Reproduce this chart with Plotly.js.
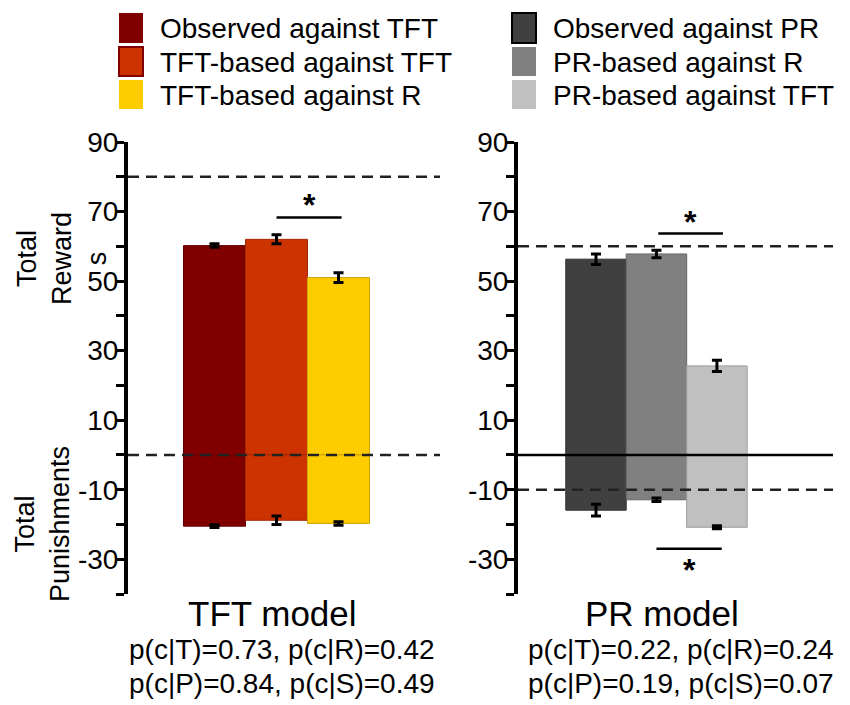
<!DOCTYPE html>
<html>
<head>
<meta charset="utf-8">
<script src="https://cdn.plot.ly/plotly-3.0.1.min.js"></script>
<style>
  html, body { margin: 0; padding: 0; background: #ffffff; }
  #chart { width: 850px; height: 705px; }
</style>
</head>
<body>
<div id="chart"></div>
<script>
// ---------------- DATA ----------------
const tftCategories = ['Observed against TFT', 'TFT-based against TFT', 'TFT-based against R'];
const tftColors = ['#800000', '#cc3300', '#ffcc00'];
const tftRewards = [60.2, 62.0, 51.0];
const tftRewardErr = [0.5, 1.3, 1.4];
const tftPunish = [-20.5, -18.8, -19.7];
const tftPunishErr = [0.4, 1.2, 0.5];

const prCategories = ['Observed against PR', 'PR-based against R', 'PR-based against TFT'];
const prColors = ['#404040', '#808080', '#c0c0c0'];
const prRewards = [56.3, 57.8, 25.6];
const prRewardErr = [1.5, 1.1, 1.6];
const prPunish = [-15.9, -12.9, -20.8];
const prPunishErr = [1.7, 0.5, 0.4];

const tftDashedRefs = [80, 0];
const prDashedRefs = [60, -10];
const prSolidRefs = [0];

// significance: [fromBar, toBar, lineValue, starValue]
const tftSigLines = [[1, 2.05, 68.3, 72.0]];
const prSigLines = [[1.03, 2.1, 63.7, 67.0], [1.0, 2.08, -27.0, -33.0]];

const tftModelTitle = 'TFT model';
const prModelTitle = 'PR model';
const tftParams = ['p(c|T)=0.73, p(c|R)=0.42', 'p(c|P)=0.84, p(c|S)=0.49'];
const prParams = ['p(c|T)=0.22, p(c|R)=0.24', 'p(c|P)=0.19, p(c|S)=0.07'];

const yTickVals = [-40, -30, -20, -10, 0, 10, 20, 30, 40, 50, 60, 70, 80, 90];
const yTickText = ['', '-30', '', '-10', '', '10', '', '30', '', '50', '', '70', '', '90'];

// ---------------- BUILD ----------------
const FONT = 'Liberation Sans, Arial, Helvetica, sans-serif';
const W = 850, H = 705;
const px = v => v / W;          // pixel -> paper x
const py = v => 1 - v / H;      // pixel -> paper y

function darker(hex, f) {
  const n = parseInt(hex.slice(1), 16);
  const r = Math.round(((n >> 16) & 255) * f), g = Math.round(((n >> 8) & 255) * f), b = Math.round((n & 255) * f);
  return 'rgb(' + r + ',' + g + ',' + b + ')';
}

function barTrace(cats, vals, errs, colors, xa, ya) {
  return {
    type: 'bar',
    x: cats.map((c, i) => i),
    y: vals,
    width: 1,
    text: cats,
    hoverinfo: 'text+y',
    textposition: 'none',
    xaxis: xa, yaxis: ya,
    marker: { color: colors, line: { color: colors.map(c => darker(c, 0.8)), width: 1 } },
    error_y: { type: 'data', array: errs, visible: true, color: '#000000', thickness: 3, width: 5 },
    showlegend: false
  };
}

const data = [
  barTrace(tftCategories, tftRewards, tftRewardErr, tftColors, 'x', 'y'),
  barTrace(tftCategories, tftPunish, tftPunishErr, tftColors, 'x', 'y'),
  barTrace(prCategories, prRewards, prRewardErr, prColors, 'x2', 'y2'),
  barTrace(prCategories, prPunish, prPunishErr, prColors, 'x2', 'y2')
];

const yDomain = [py(594), py(142)];
const yAxisBase = {
  domain: yDomain,
  range: [-40, 90],
  tickmode: 'array',
  tickvals: yTickVals,
  ticktext: yTickText,
  ticks: 'outside',
  ticklen: 8,
  tickwidth: 3,
  tickcolor: '#000',
  ticklabelstandoff: -8,
  showline: true,
  linewidth: 4,
  linecolor: '#000',
  showgrid: false,
  zeroline: false,
  automargin: false,
  tickfont: { family: FONT, size: 28, color: '#000' }
};
const xAxisBase = {
  showline: false, showgrid: false, zeroline: false, showticklabels: false, ticks: '', automargin: false, fixedrange: true
};

const shapes = [];
const annotations = [];

function refLine(xref, y, dash) {
  shapes.push({ type: 'line', xref: xref + ' domain', yref: xref === 'x' ? 'y' : 'y2', x0: 0, x1: 1, y0: y, y1: y,
    line: { color: dash ? '#222' : '#000', width: 2.5, dash: dash ? '11px,7px' : 'solid' } });
}
tftDashedRefs.forEach(v => refLine('x', v, true));
prDashedRefs.forEach(v => refLine('x2', v, true));
prSolidRefs.forEach(v => refLine('x2', v, false));

function sig(xref, yref, s) {
  shapes.push({ type: 'line', xref: xref, yref: yref, x0: s[0], x1: s[1], y0: s[2], y1: s[2], line: { color: '#000', width: 2.5 } });
  annotations.push({ xref: xref, yref: yref, x: (s[0] + s[1]) / 2, y: s[3], text: '<b>*</b>', showarrow: false,
    font: { family: FONT, size: 32, color: '#000' }, xanchor: 'center', yanchor: 'middle' });
}
tftSigLines.forEach(s => sig('x', 'y', s));
prSigLines.forEach(s => sig('x2', 'y2', s));

// manual legend
const swRows = [[13, 43], [47, 76], [80, 109]];
function legendCol(cats, colors, x0, textX, borders) {
  cats.forEach((c, i) => {
    shapes.push({ type: 'rect', xref: 'paper', yref: 'paper', x0: px(x0), x1: px(x0 + 24), y0: py(swRows[i][1]), y1: py(swRows[i][0]),
      fillcolor: colors[i], line: { color: borders[i] || colors[i], width: borders[i] ? 2 : 0 } });
    annotations.push({ xref: 'paper', yref: 'paper', x: px(textX), y: py((swRows[i][0] + swRows[i][1]) / 2 + 1), text: c,
      showarrow: false, xanchor: 'left', yanchor: 'middle', font: { family: FONT, size: 28, color: '#000' } });
  });
}
legendCol(tftCategories, tftColors, 119, 158, ['', '#800000', '']);
legendCol(prCategories, prColors, 512, 551, ['#000000', '', '']);

// y titles
annotations.push({ xref: 'paper', yref: 'paper', x: px(62), y: py(259), text: 'Total<br>Reward<br>s', textangle: -90,
  showarrow: false, xanchor: 'center', yanchor: 'middle', align: 'center', font: { family: FONT, size: 27, color: '#000' } });
annotations.push({ xref: 'paper', yref: 'paper', x: px(42), y: py(524), text: 'Total<br>Punishments', textangle: -90,
  showarrow: false, xanchor: 'center', yanchor: 'middle', align: 'center', font: { family: FONT, size: 27, color: '#000' } });

// model titles and parameters
function modelText(cx, title, params, pcx) {
  annotations.push({ xref: 'paper', yref: 'paper', x: px(cx), y: py(613), text: title, showarrow: false,
    xanchor: 'center', yanchor: 'middle', font: { family: FONT, size: 35, color: '#000' } });
  params.forEach((p, i) => {
    annotations.push({ xref: 'paper', yref: 'paper', x: px(pcx), y: py(649 + i * 34), text: p, showarrow: false,
      xanchor: 'center', yanchor: 'middle', font: { family: FONT, size: 28, color: '#000' } });
  });
}
modelText(272, tftModelTitle, tftParams, 282);
modelText(662, prModelTitle, prParams, 681);

const layout = {
  width: W, height: H,
  margin: { l: 0, r: 0, t: 0, b: 0, pad: 0 },
  paper_bgcolor: '#ffffff', plot_bgcolor: 'rgba(0,0,0,0)',
  barmode: 'overlay', bargap: 0,
  showlegend: false,
  xaxis: Object.assign({}, xAxisBase, { domain: [px(128), px(440)], range: [-1.395, 3.637] }),
  xaxis2: Object.assign({}, xAxisBase, { domain: [px(518), px(833)], range: [-1.29, 3.92], anchor: 'y2' }),
  yaxis: Object.assign({}, yAxisBase, { anchor: 'x' }),
  yaxis2: Object.assign({}, yAxisBase, { anchor: 'x2' }),
  shapes: shapes,
  annotations: annotations
};

Plotly.newPlot('chart', data, layout, { displayModeBar: false, staticPlot: true });
</script>
</body>
</html>
